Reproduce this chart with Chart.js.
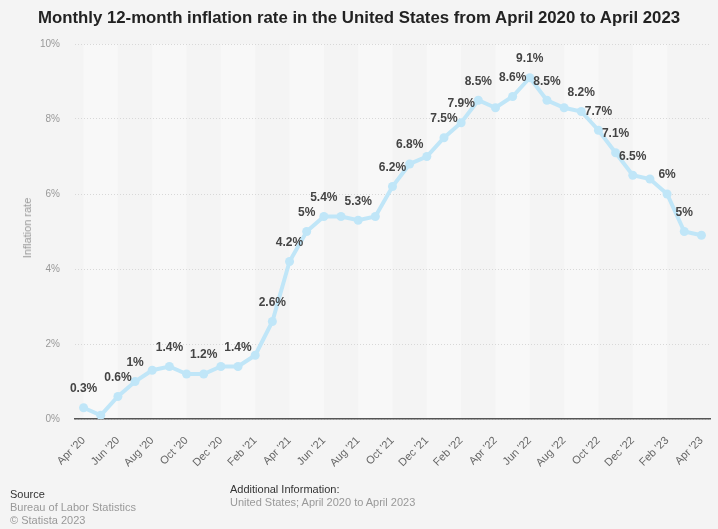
<!DOCTYPE html>
<html>
<head>
<meta charset="utf-8">
<script src="https://cdn.jsdelivr.net/npm/chart.js@4"></script>
<style>
  body { margin: 0; background: #f4f4f4; font-family: "Liberation Sans", Arial, sans-serif; }
  #wrap { position: relative; width: 718px; height: 529px; }
  #title { position: absolute; top: 8px; left: 0; width: 718px; text-align: center; font-weight: bold; font-size: 16.8px; color: #222; }
  #ytitle { position: absolute; left: 27px; top: 228px; transform: translate(-50%, -50%) rotate(-90deg); font-size: 11px; color: #999; white-space: nowrap; }
  .foot { position: absolute; font-size: 11px; line-height: 13px; }
  .dark { color: #333; }
  .gray { color: #999; }
</style>
</head>
<body>
<div id="wrap">
  <canvas id="chart" width="718" height="529"></canvas>
  <div id="title">Monthly 12-month inflation rate in the United States from April 2020 to April 2023</div>
  <div id="ytitle">Inflation rate</div>
  <div class="foot" style="left:10px; top:488px;">
    <div class="dark">Source</div>
    <div class="gray">Bureau of Labor Statistics</div>
    <div class="gray">© Statista 2023</div>
  </div>
  <div class="foot" style="left:230px; top:483px;">
    <div class="dark">Additional Information:</div>
    <div class="gray">United States; April 2020 to April 2023</div>
  </div>
</div>
<script>
// months shown on the x axis
const months = [
  "Apr '20", "May '20", "Jun '20", "Jul '20", "Aug '20", "Sep '20", "Oct '20", "Nov '20", "Dec '20",
  "Jan '21", "Feb '21", "Mar '21", "Apr '21", "May '21", "Jun '21", "Jul '21", "Aug '21", "Sep '21",
  "Oct '21", "Nov '21", "Dec '21", "Jan '22", "Feb '22", "Mar '22", "Apr '22", "May '22", "Jun '22",
  "Jul '22", "Aug '22", "Sep '22", "Oct '22", "Nov '22", "Dec '22", "Jan '23", "Feb '23", "Mar '23", "Apr '23"
];

// 12-month inflation rate in %
const inflation = [
  0.3, 0.1, 0.6, 1.0, 1.3, 1.4, 1.2, 1.2, 1.4,
  1.4, 1.7, 2.6, 4.2, 5.0, 5.4, 5.4, 5.3, 5.4,
  6.2, 6.8, 7.0, 7.5, 7.9, 8.5, 8.3, 8.6, 9.1,
  8.5, 8.3, 8.2, 7.7, 7.1, 6.5, 6.4, 6.0, 5.0, 4.9
];

// months that carry a value label
const labelledMonths = [
  "Apr '20", "Jun '20", "Jul '20", "Sep '20", "Nov '20", "Jan '21", "Mar '21", "Apr '21", "May '21",
  "Jun '21", "Aug '21", "Oct '21", "Nov '21", "Jan '22", "Feb '22", "Mar '22", "May '22", "Jun '22",
  "Jul '22", "Sep '22", "Oct '22", "Nov '22", "Dec '22", "Feb '23", "Mar '23"
];

const yTicks = [0, 2, 4, 6, 8, 10];

const lineColor = "#c0e6f8";

// alternating column bands, two months wide
const bandsPlugin = {
  id: "bands",
  beforeDraw(chart) {
    const { ctx, chartArea, scales } = chart;
    ctx.save();
    ctx.fillStyle = "#f8f8f8";
    for (let i = 0; i + 2 < months.length; i += 4) {
      const x1 = scales.x.getPixelForValue(i);
      const x2 = scales.x.getPixelForValue(i + 2);
      ctx.fillRect(x1, chartArea.top, x2 - x1, chartArea.bottom - chartArea.top);
    }
    ctx.restore();
  }
};

// value labels above points
const valueLabels = {
  id: "valueLabels",
  afterDatasetsDraw(chart) {
    const { ctx } = chart;
    const meta = chart.getDatasetMeta(0);
    ctx.save();
    ctx.font = "bold 12px 'Liberation Sans', Arial, sans-serif";
    ctx.fillStyle = "#444";
    ctx.textAlign = "center";
    ctx.textBaseline = "middle";
    meta.data.forEach((pt, i) => {
      if (!labelledMonths.includes(months[i])) return;
      const v = inflation[i];
      ctx.fillText((Number.isInteger(v) ? v : v.toFixed(1)) + "%", pt.x, pt.y - 19);
    });
    ctx.restore();
  }
};

new Chart(document.getElementById("chart"), {
  type: "line",
  data: {
    labels: months,
    datasets: [{
      label: "Inflation rate",
      data: inflation,
      borderColor: lineColor,
      backgroundColor: lineColor,
      borderWidth: 4,
      pointRadius: 4.5,
      pointBorderWidth: 0,
      tension: 0
    }]
  },
  options: {
    responsive: false,
    animation: false,
    layout: { padding: { top: 44, right: 8, left: 0, bottom: 0 } },
    plugins: { legend: { display: false }, tooltip: { enabled: false } },
    scales: {
      x: {
        offset: true,
        afterFit: s => { s.height = 110; s.paddingLeft = 0; s.paddingRight = 0; },
        grid: { display: false, drawTicks: false },
        border: { display: true, color: "#555", width: 1.5 },
        ticks: {
          autoSkip: false,
          maxRotation: 45,
          minRotation: 45,
          padding: 15,
          color: "#666",
          font: { size: 11, family: "'Liberation Sans', Arial, sans-serif" },
          callback: (v, i) => (i % 2 === 0 ? months[i] : "")
        }
      },
      y: {
        min: 0,
        max: 10,
        afterFit: s => { s.width = 75; },
        afterBuildTicks: s => { s.ticks = yTicks.map(v => ({ value: v })); },
        grid: { color: "#d8d8d8", drawTicks: false },
        border: { display: false, dash: [1, 2] },
        ticks: {
          padding: 15,
          color: "#999",
          font: { size: 10, family: "'Liberation Sans', Arial, sans-serif" },
          callback: v => v + "%"
        }
      }
    }
  },
  plugins: [bandsPlugin, valueLabels]
});
</script>
</body>
</html>
